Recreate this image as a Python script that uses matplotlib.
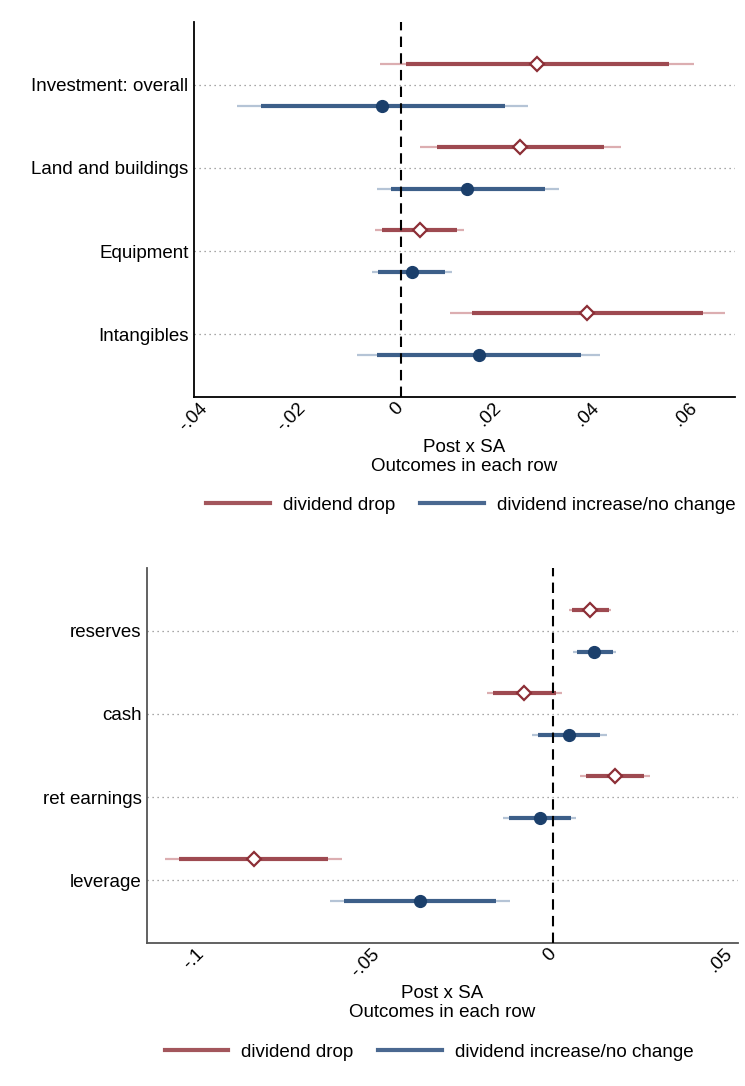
import matplotlib
matplotlib.use("Agg")
import matplotlib.pyplot as plt
from matplotlib.lines import Line2D

plt.rcParams['font.family'] = ['Liberation Sans', 'DejaVu Sans']

# top panel: investment outcomes
inv_labels = ['Investment: overall', 'Land and buildings', 'Equipment', 'Intangibles']
inv_drop_b = [0.0278, 0.0244, 0.0038, 0.0381]
inv_drop_lo90 = [0.0010, 0.0074, -0.0038, 0.0146]
inv_drop_hi90 = [0.0548, 0.0415, 0.0114, 0.0618]
inv_drop_lo95 = [-0.0042, 0.0040, -0.0053, 0.0101]
inv_drop_hi95 = [0.0599, 0.0449, 0.0129, 0.0663]
inv_inc_b = [-0.0038, 0.0136, 0.0022, 0.0159]
inv_inc_lo90 = [-0.0286, -0.0020, -0.0046, -0.0049]
inv_inc_hi90 = [0.0212, 0.0294, 0.0090, 0.0368]
inv_inc_lo95 = [-0.0335, -0.0049, -0.0059, -0.0090]
inv_inc_hi95 = [0.0260, 0.0324, 0.0104, 0.0408]
inv_ticks = [-0.04, -0.02, 0, 0.02, 0.04, 0.06]
inv_ticklabels = ['-.04', '-.02', '0', '.02', '.04', '.06']

# bottom panel: financing outcomes
fin_labels = ['reserves', 'cash', 'ret earnings', 'leverage']
fin_drop_b = [0.0103, -0.0082, 0.0175, -0.0852]
fin_drop_lo90 = [0.0054, -0.0172, 0.0092, -0.1063]
fin_drop_hi90 = [0.0158, 0.0009, 0.0259, -0.0641]
fin_drop_lo95 = [0.0046, -0.0188, 0.0076, -0.1103]
fin_drop_hi95 = [0.0165, 0.0025, 0.0275, -0.0601]
fin_inc_b = [0.0117, 0.0046, -0.0039, -0.0379]
fin_inc_lo90 = [0.0067, -0.0044, -0.0127, -0.0596]
fin_inc_hi90 = [0.0169, 0.0134, 0.0049, -0.0163]
fin_inc_lo95 = [0.0057, -0.0060, -0.0144, -0.0636]
fin_inc_hi95 = [0.0177, 0.0152, 0.0065, -0.0122]
fin_ticks = [-0.1, -0.05, 0, 0.05]
fin_ticklabels = ['-.1', '-.05', '0', '.05']

RED, RED_THICK, RED_THIN = '#8c2e36', '#9e4a51', '#dcaeb1'
BLUE, BLUE_THICK, BLUE_THIN = '#1b3f6b', '#3d5f89', '#b5c4d6'
FS = 13.5


def draw_panel(ax, labels, groups, ticks, ticklabels, xlim, spine_color):
    n = len(labels)
    rows = list(range(1, n + 1))
    for off, b, lo90, hi90, lo95, hi95, thin_c, thick_c, mk in groups:
        for i, r in enumerate(rows):
            y = r + off
            ax.plot([lo95[i], hi95[i]], [y, y], color=thin_c, lw=1.6, solid_capstyle='butt', zorder=2)
            ax.plot([lo90[i], hi90[i]], [y, y], color=thick_c, lw=3.0, solid_capstyle='butt', zorder=3)
        ys = [r + off for r in rows]
        if mk == 'D':
            ax.plot(b, ys, 'D', ms=7, mfc='white', mec=RED, mew=1.6, ls='none', zorder=4)
        else:
            ax.plot(b, ys, 'o', ms=8.5, color=BLUE, ls='none', zorder=4)

    ax.axvline(0, color='black', lw=1.5, ls=(0, (5, 3)), zorder=5)
    ax.set_xlim(*xlim)
    ax.set_ylim(n + 0.755, 0.245)
    ax.set_yticks(rows)
    ax.set_yticklabels(labels, fontsize=FS)
    ax.yaxis.grid(True, ls=(0, (1, 3)), color='#8a8a8a', lw=0.9)
    ax.set_xticks(ticks)
    ax.set_xticklabels(ticklabels, fontsize=FS, rotation=45, ha='right', va='center',
                       rotation_mode='anchor')
    ax.tick_params(axis='both', length=0)
    ax.tick_params(axis='x', pad=6)
    ax.tick_params(axis='y', pad=4)
    for s in ['top', 'right']:
        ax.spines[s].set_visible(False)
    for s in ['left', 'bottom']:
        ax.spines[s].set_color(spine_color)
        ax.spines[s].set_linewidth(1.3)
    ax.set_xlabel('Post x SA\nOutcomes in each row', fontsize=FS, labelpad=3.5, linespacing=1.1)


fig = plt.figure(figsize=(7.45, 10.86), dpi=100)

ax1 = fig.add_axes([0.2604, 0.6344, 0.7262, 0.3453])
draw_panel(ax1, inv_labels,
           [(-0.25, inv_drop_b, inv_drop_lo90, inv_drop_hi90, inv_drop_lo95, inv_drop_hi95, RED_THIN, RED_THICK, 'D'),
            (0.25, inv_inc_b, inv_inc_lo90, inv_inc_hi90, inv_inc_lo95, inv_inc_hi95, BLUE_THIN, BLUE_THICK, 'o')],
           inv_ticks, inv_ticklabels, (-0.0423, 0.0683), 'black')

ax2 = fig.add_axes([0.1973, 0.1317, 0.7933, 0.3453])
draw_panel(ax2, fin_labels,
           [(-0.25, fin_drop_b, fin_drop_lo90, fin_drop_hi90, fin_drop_lo95, fin_drop_hi95, RED_THIN, RED_THICK, 'D'),
            (0.25, fin_inc_b, fin_inc_lo90, fin_inc_hi90, fin_inc_lo95, fin_inc_hi95, BLUE_THIN, BLUE_THICK, 'o')],
           fin_ticks, fin_ticklabels, (-0.1155, 0.0525), '#555555')

handles = [Line2D([], [], color='#a3565c', lw=3), Line2D([], [], color='#4a6890', lw=3)]
names = ['dividend drop', 'dividend increase/no change']
for ax, yc, xc in [(ax1, 0.535, 0.632), (ax2, 0.0313, 0.576)]:
    fig.legend(handles, names, loc='center', bbox_to_anchor=(xc, yc), ncol=2, frameon=False,
               fontsize=FS, handlelength=3.4, handletextpad=0.7, columnspacing=1.3)

fig.savefig('out.png', dpi=100, facecolor='white')
